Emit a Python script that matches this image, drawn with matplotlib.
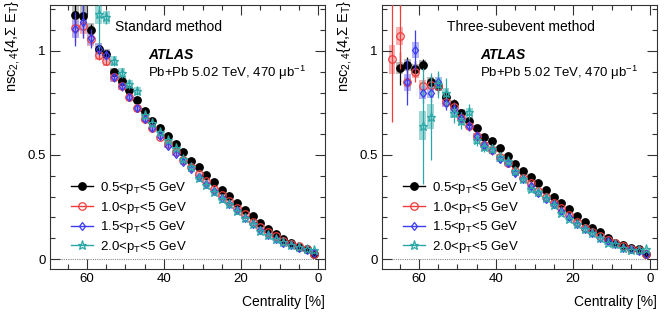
import numpy as np
import matplotlib
matplotlib.use("Agg")
import matplotlib.pyplot as plt
from matplotlib.lines import Line2D
from matplotlib.patches import Rectangle
from matplotlib.ticker import MultipleLocator

plt.rcParams['font.family'] = ['Liberation Sans', 'DejaVu Sans']
plt.rcParams['mathtext.fontset'] = 'custom'
plt.rcParams['mathtext.rm'] = 'Liberation Sans'
plt.rcParams['mathtext.it'] = 'Liberation Sans:italic'
plt.rcParams['mathtext.bf'] = 'Liberation Sans:bold'

nan = np.nan

# centrality bin centres [%]
cent = [1, 3, 5, 7, 9, 11, 13, 15, 17, 19, 21, 23, 25, 27, 29, 31, 33,
        35, 37, 39, 41, 43, 45, 47, 49, 51, 53, 55, 57, 59, 61, 63, 65, 67]

labels = ['0.5<p$_{\\mathrm{T}}$<5 GeV', '1.0<p$_{\\mathrm{T}}$<5 GeV',
          '1.5<p$_{\\mathrm{T}}$<5 GeV', '2.0<p$_{\\mathrm{T}}$<5 GeV']

# ---- standard method ----
std_05 = [0.025, 0.047, 0.060, 0.076, 0.095, 0.118, 0.146, 0.172, 0.205, 0.236, 0.268, 0.301,
          0.330, 0.370, 0.405, 0.443, 0.473, 0.513, 0.553, 0.593, 0.632, 0.665, 0.711, 0.764,
          0.812, 0.857, 0.900, 0.984, 1.010, 1.100, 1.168, 1.173, nan, nan]
std_10 = [0.026, 0.047, 0.063, 0.074, 0.087, 0.110, 0.130, 0.155, 0.178, 0.215, 0.247, 0.279,
          0.306, 0.338, 0.375, 0.407, 0.440, 0.478, 0.515, 0.552, 0.588, 0.628, 0.673, 0.724,
          0.777, 0.832, 0.873, 0.952, 0.980, 1.056, 1.120, 1.109, nan, nan]
std_15 = [0.027, 0.042, 0.054, 0.066, 0.078, 0.095, 0.115, 0.139, 0.167, 0.199, 0.234, 0.266,
          0.295, 0.327, 0.359, 0.396, 0.431, 0.466, 0.505, 0.545, 0.590, 0.628, 0.673, 0.724,
          0.780, 0.830, 0.873, 0.980, 1.010, 1.060, 1.140, 1.105, nan, nan]
std_20 = [0.045, 0.047, 0.058, 0.068, 0.080, 0.095, 0.114, 0.135, 0.167, 0.199, 0.231, 0.263,
          0.290, 0.322, 0.356, 0.391, 0.442, 0.479, 0.532, 0.572, 0.612, 0.652, 0.692, 0.808,
          0.840, 0.896, 0.952, 1.162, 1.178, nan, nan, nan, nan, nan]

std_05_stat = [0.002, 0.002, 0.002, 0.002, 0.002, 0.003, 0.003, 0.003, 0.003, 0.004, 0.004, 0.004,
               0.005, 0.005, 0.005, 0.006, 0.006, 0.007, 0.007, 0.008, 0.008, 0.009, 0.010, 0.011,
               0.012, 0.013, 0.015, 0.017, 0.020, 0.030, 0.050, 0.060, nan, nan]
std_05_sys = [0.004, 0.004, 0.004, 0.005, 0.005, 0.006, 0.006, 0.007, 0.007, 0.008, 0.008, 0.009,
              0.009, 0.010, 0.010, 0.011, 0.011, 0.012, 0.012, 0.013, 0.013, 0.014, 0.015, 0.016,
              0.017, 0.018, 0.020, 0.025, 0.030, 0.035, 0.080, 0.090, nan, nan]
std_10_stat = [0.002, 0.002, 0.002, 0.002, 0.003, 0.003, 0.003, 0.004, 0.004, 0.004, 0.005, 0.005,
               0.006, 0.006, 0.007, 0.007, 0.008, 0.008, 0.009, 0.010, 0.011, 0.012, 0.013, 0.014,
               0.015, 0.016, 0.018, 0.020, 0.025, 0.035, 0.060, 0.070, nan, nan]
std_10_sys = [0.004, 0.004, 0.004, 0.005, 0.005, 0.006, 0.006, 0.007, 0.007, 0.008, 0.008, 0.009,
              0.009, 0.010, 0.010, 0.011, 0.011, 0.012, 0.012, 0.013, 0.013, 0.014, 0.015, 0.016,
              0.017, 0.018, 0.020, 0.022, 0.025, 0.030, 0.040, 0.040, nan, nan]
std_15_stat = [0.002, 0.002, 0.002, 0.003, 0.003, 0.003, 0.004, 0.004, 0.004, 0.005, 0.005, 0.006,
               0.006, 0.007, 0.007, 0.008, 0.009, 0.010, 0.011, 0.012, 0.013, 0.014, 0.015, 0.016,
               0.018, 0.020, 0.022, 0.025, 0.030, 0.045, 0.080, 0.080, nan, nan]
std_15_sys = [0.004, 0.004, 0.004, 0.005, 0.005, 0.006, 0.006, 0.007, 0.007, 0.008, 0.008, 0.009,
              0.009, 0.010, 0.010, 0.011, 0.011, 0.012, 0.012, 0.013, 0.013, 0.014, 0.015, 0.016,
              0.017, 0.018, 0.020, 0.025, 0.030, 0.030, 0.045, 0.045, nan, nan]
std_20_stat = [0.003, 0.003, 0.003, 0.003, 0.004, 0.004, 0.004, 0.005, 0.005, 0.006, 0.006, 0.007,
               0.007, 0.008, 0.009, 0.010, 0.011, 0.012, 0.013, 0.014, 0.015, 0.016, 0.018, 0.020,
               0.022, 0.024, 0.026, 0.030, 0.170, nan, nan, nan, nan, nan]
std_20_sys = [0.005, 0.005, 0.005, 0.006, 0.006, 0.007, 0.007, 0.008, 0.008, 0.009, 0.009, 0.010,
              0.010, 0.011, 0.011, 0.012, 0.012, 0.013, 0.013, 0.014, 0.015, 0.016, 0.017, 0.018,
              0.019, 0.020, 0.022, 0.030, 0.050, nan, nan, nan, nan, nan]

# ---- three-subevent method ----
sub_05 = [0.023, 0.047, 0.054, 0.066, 0.075, 0.103, 0.130, 0.151, 0.180, 0.207, 0.242, 0.271,
          0.298, 0.330, 0.364, 0.396, 0.423, 0.455, 0.495, 0.532, 0.569, 0.588, 0.628, 0.665,
          0.703, 0.745, 0.777, 0.832, 0.852, 0.933, 0.913, 0.933, 0.917, nan]
sub_10 = [0.022, 0.042, 0.050, 0.062, 0.075, 0.091, 0.110, 0.130, 0.151, 0.178, 0.210, 0.247,
          0.271, 0.298, 0.327, 0.364, 0.391, 0.423, 0.463, 0.490, 0.524, 0.548, 0.591, 0.640,
          0.680, 0.730, 0.755, 0.830, 0.837, 0.832, 0.900, 0.852, 1.072, 0.960]
sub_15 = [0.026, 0.039, 0.047, 0.054, 0.071, 0.087, 0.102, 0.123, 0.146, 0.170, 0.202, 0.231,
          0.263, 0.290, 0.319, 0.351, 0.383, 0.412, 0.460, 0.480, 0.522, 0.548, 0.591, 0.640,
          0.680, 0.720, 0.750, 0.852, 0.800, 0.800, 1.005, 0.850, nan, nan]
sub_20 = [0.047, 0.042, 0.042, 0.054, 0.071, 0.075, 0.102, 0.123, 0.143, 0.166, 0.194, 0.223,
          0.258, 0.295, 0.320, 0.335, 0.386, 0.423, 0.471, 0.490, 0.530, 0.540, 0.572, 0.708,
          0.665, 0.700, 0.800, 0.840, 0.684, 0.640, nan, nan, nan, nan]

sub_05_stat = [0.002, 0.002, 0.002, 0.003, 0.003, 0.003, 0.004, 0.004, 0.005, 0.005, 0.006, 0.006,
               0.007, 0.007, 0.008, 0.009, 0.010, 0.011, 0.012, 0.013, 0.014, 0.015, 0.016, 0.018,
               0.020, 0.022, 0.025, 0.028, 0.030, 0.030, 0.040, 0.040, 0.080, nan]
sub_05_sys = [0.004, 0.004, 0.004, 0.005, 0.005, 0.006, 0.006, 0.007, 0.007, 0.008, 0.008, 0.009,
              0.009, 0.010, 0.010, 0.011, 0.011, 0.012, 0.012, 0.013, 0.013, 0.014, 0.015, 0.016,
              0.017, 0.018, 0.020, 0.020, 0.025, 0.025, 0.025, 0.030, 0.030, nan]
sub_10_stat = [0.002, 0.002, 0.003, 0.003, 0.003, 0.004, 0.004, 0.005, 0.005, 0.006, 0.006, 0.007,
               0.008, 0.009, 0.010, 0.011, 0.012, 0.013, 0.014, 0.015, 0.016, 0.018, 0.020, 0.022,
               0.024, 0.026, 0.030, 0.035, 0.040, 0.045, 0.050, 0.060, 0.160, 0.300]
sub_10_sys = [0.004, 0.004, 0.004, 0.005, 0.005, 0.006, 0.006, 0.007, 0.007, 0.008, 0.008, 0.009,
              0.009, 0.010, 0.010, 0.011, 0.011, 0.012, 0.012, 0.013, 0.013, 0.014, 0.015, 0.016,
              0.017, 0.018, 0.020, 0.022, 0.025, 0.030, 0.030, 0.030, 0.045, 0.070]
sub_15_stat = [0.002, 0.002, 0.003, 0.003, 0.004, 0.004, 0.005, 0.005, 0.006, 0.006, 0.007, 0.008,
               0.009, 0.010, 0.011, 0.012, 0.013, 0.014, 0.016, 0.018, 0.020, 0.022, 0.024, 0.026,
               0.028, 0.030, 0.035, 0.040, 0.045, 0.050, 0.095, 0.110, nan, nan]
sub_15_sys = [0.004, 0.004, 0.004, 0.005, 0.005, 0.006, 0.006, 0.007, 0.007, 0.008, 0.008, 0.009,
              0.009, 0.010, 0.010, 0.011, 0.011, 0.012, 0.012, 0.013, 0.013, 0.014, 0.015, 0.016,
              0.017, 0.018, 0.020, 0.022, 0.025, 0.030, 0.040, 0.040, nan, nan]
sub_20_stat = [0.003, 0.003, 0.004, 0.004, 0.005, 0.005, 0.006, 0.006, 0.007, 0.008, 0.009, 0.010,
               0.011, 0.012, 0.013, 0.015, 0.017, 0.019, 0.021, 0.023, 0.025, 0.028, 0.031, 0.035,
               0.040, 0.045, 0.070, 0.065, 0.210, 0.280, nan, nan, nan, nan]
sub_20_sys = [0.005, 0.005, 0.005, 0.006, 0.006, 0.007, 0.007, 0.008, 0.008, 0.009, 0.009, 0.010,
              0.010, 0.011, 0.011, 0.012, 0.012, 0.013, 0.013, 0.014, 0.015, 0.016, 0.017, 0.018,
              0.019, 0.020, 0.022, 0.030, 0.060, 0.070, nan, nan, nan, nan]

colors = ['black', '#f03c3c', '#3c3cf0', '#2aa8a8']
box_colors = ['#b0b0b0', '#f7a5a5', '#a9a9f7', '#8fd1d1']
markers = ['o', 'o', 'd', '*']
msizes = [5.4, 5.4, 4.4, 6.8]
faces = ['black', 'none', 'none', 'none']


def draw_panel(ax, series, stats, syss, title):
    x = np.array(cent, dtype=float)
    for i in range(4):
        y = np.array(series[i], dtype=float)
        sy = np.array(syss[i], dtype=float)
        ok = ~np.isnan(y)
        # systematic boxes
        for xi, yi, si in zip(x[ok], y[ok], sy[ok]):
            ax.add_patch(Rectangle((xi - 0.9, yi - si), 1.8, 2 * si, facecolor=box_colors[i],
                                   edgecolor='none', alpha=0.85, zorder=1 + i * 0.1))
    for i in range(4):
        y = np.array(series[i], dtype=float)
        st = np.array(stats[i], dtype=float)
        ok = ~np.isnan(y)
        ax.errorbar(x[ok], y[ok], yerr=st[ok], fmt=markers[i], color=colors[i],
                    mfc=faces[i], mec=colors[i], ms=msizes[i], mew=0.9, elinewidth=0.9,
                    capsize=0, zorder=3 + i * 0.1)

    ax.axhline(0, color='#888888', lw=0.8, ls=(0, (1, 1)), zorder=0.5)
    ax.set_xlim(69.6, -1.8)
    ax.set_ylim(-0.048, 1.221)
    ax.xaxis.set_major_locator(MultipleLocator(20))
    ax.xaxis.set_minor_locator(MultipleLocator(5))
    ax.yaxis.set_major_locator(MultipleLocator(0.5))
    ax.yaxis.set_minor_locator(MultipleLocator(0.1))
    ax.yaxis.set_major_formatter(plt.FuncFormatter(lambda v, p: '%g' % v))
    ax.tick_params(which='both', direction='in', top=True, right=True, labelsize=9.5,
                   width=0.8, color='#333333')
    ax.tick_params(which='major', length=7, pad=3)
    ax.tick_params(which='minor', length=3.5)
    for s in ax.spines.values():
        s.set_linewidth(0.8)
        s.set_color('#333333')

    ax.set_xlabel('Centrality [%]', fontsize=10, ha='right')
    ax.xaxis.set_label_coords(1.0, -0.1)
    ax.text(-0.138, 1.02, 'nsc$_{2,4}${4,Σ E$_{\\mathrm{T}}$}', transform=ax.transAxes,
            rotation=90, ha='center', va='top', fontsize=10.5)

    ax.text(0.236, 0.917, title, transform=ax.transAxes, fontsize=10, va='center')
    ax.text(0.356, 0.81, 'ATLAS', transform=ax.transAxes, fontsize=10, va='center',
            fontweight='bold', fontstyle='italic')
    ax.text(0.356, 0.742, 'Pb+Pb 5.02 TeV, 470 μb$^{-1}$', transform=ax.transAxes,
            fontsize=9.5, va='center')

    handles = [Line2D([], [], color=colors[i], marker=markers[i], mfc=faces[i],
                      mec=colors[i], ms=msizes[i], mew=0.9, lw=1.0) for i in range(4)]
    ax.legend(handles, labels, loc='upper left', bbox_to_anchor=(0.075, 0.337),
              frameon=False, fontsize=9.5, handlelength=1.7, handletextpad=0.5,
              labelspacing=0.28, borderpad=0, borderaxespad=0)


fig = plt.figure(figsize=(6.64, 3.12), dpi=100)
ax1 = fig.add_axes([50 / 664, 43 / 312, 275 / 664, 264 / 312])
ax2 = fig.add_axes([382 / 664, 43 / 312, 275 / 664, 264 / 312])

draw_panel(ax1, [std_05, std_10, std_15, std_20],
           [std_05_stat, std_10_stat, std_15_stat, std_20_stat],
           [std_05_sys, std_10_sys, std_15_sys, std_20_sys], 'Standard method')
draw_panel(ax2, [sub_05, sub_10, sub_15, sub_20],
           [sub_05_stat, sub_10_stat, sub_15_stat, sub_20_stat],
           [sub_05_sys, sub_10_sys, sub_15_sys, sub_20_sys], 'Three-subevent method')

fig.savefig('out.png', dpi=100)
